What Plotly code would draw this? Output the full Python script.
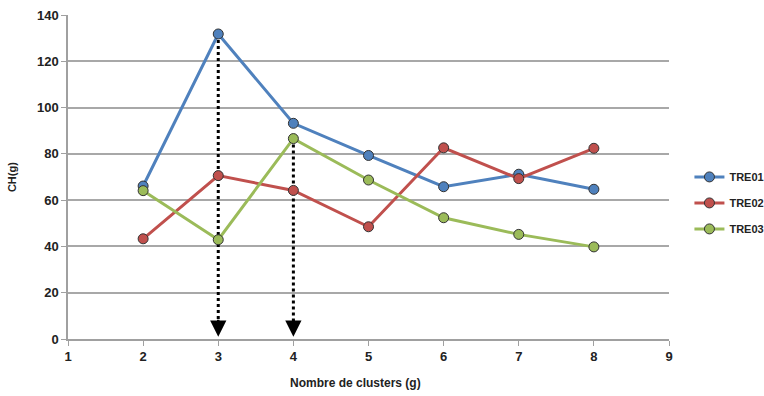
import plotly.graph_objects as go

clusters = [2, 3, 4, 5, 6, 7, 8]
tre01 = [66.1, 131.8, 93.2, 79.3, 65.8, 71.2, 64.7]
tre02 = [43.3, 70.6, 64.2, 48.5, 82.6, 69.3, 82.4]
tre03 = [64.1, 42.9, 86.6, 68.7, 52.4, 45.2, 39.8]
series_names = ["TRE01", "TRE02", "TRE03"]
colors = ["#4F81BD", "#C0504D", "#9BBB59"]

arrow_x = [3, 4]
arrow_top = [tre01[clusters.index(3)], tre03[clusters.index(4)]]
arrow_bottom = [1.0, 1.0]

font_family = "Liberation Sans, Arial"

fig = go.Figure()

# dotted arrow shafts
for xa, yt, yb in zip(arrow_x, arrow_top, arrow_bottom):
    fig.add_trace(go.Scatter(x=[xa, xa], y=[yt, yb + 3], mode="lines",
                             line=dict(color="black", width=3, dash="dot"),
                             showlegend=False, hoverinfo="skip"))

for name, vals, c in zip(series_names, [tre01, tre02, tre03], colors):
    fig.add_trace(go.Scatter(x=clusters, y=vals, mode="lines+markers", name="<b>" + name + "</b>",
                             legendgroup=name,
                             line=dict(color=c, width=3),
                             marker=dict(size=10, color=c, line=dict(color="#333333", width=1))))

for xa, yb in zip(arrow_x, arrow_bottom):
    fig.add_annotation(x=xa, y=yb, ax=xa, ay=yb + 8, xref="x", yref="y", axref="x", ayref="y",
                       showarrow=True, arrowhead=2, arrowsize=1.3, arrowwidth=2.5,
                       arrowcolor="black", text="")

fig.add_annotation(x=-0.093, y=0.5, xref="paper", yref="paper", text="<b>CH(g)</b>",
                   textangle=-90, showarrow=False, font=dict(size=11, family=font_family),
                   xanchor="center", yanchor="middle")
fig.add_annotation(x=(355 - 68) / 601, y=-0.135, xref="paper", yref="paper",
                   text="<b>Nombre de clusters (g)</b>", showarrow=False,
                   font=dict(size=12, family=font_family), xanchor="center", yanchor="middle")

fig.update_layout(
    width=764, height=396,
    margin=dict(l=68, r=95, t=15, b=57, autoexpand=False),
    paper_bgcolor="white", plot_bgcolor="white",
    font=dict(family=font_family, size=13, color="#222222"),
    legend=dict(x=1.034, y=0.42, xanchor="left", yanchor="middle",
                font=dict(size=11, family=font_family, color="#222222"),
                tracegroupgap=7, itemwidth=30),
    showlegend=True,
)
fig.update_xaxes(range=[1, 9], dtick=1, tick0=1, showgrid=False, automargin=False,
                 showline=True, linecolor="#A0A0A0", linewidth=1.5,
                 ticks="outside", tickcolor="#A0A0A0", ticklen=5,
                 tickfont=dict(size=13, family=font_family),
                 tickprefix="<b>", ticksuffix="</b>", zeroline=False)
fig.update_yaxes(range=[0, 140], dtick=20, showgrid=True, gridcolor="#A8A8A8", gridwidth=1.5,
                 showline=True, linecolor="#A0A0A0", linewidth=1.5, automargin=False,
                 ticks="outside", tickcolor="#A0A0A0", ticklen=5,
                 tickfont=dict(size=13, family=font_family),
                 tickprefix="<b>", ticksuffix="</b>",
                 zeroline=False)

fig.write_html("out.html", config={"displayModeBar": False},
               post_script="document.body.style.margin='0px';")
